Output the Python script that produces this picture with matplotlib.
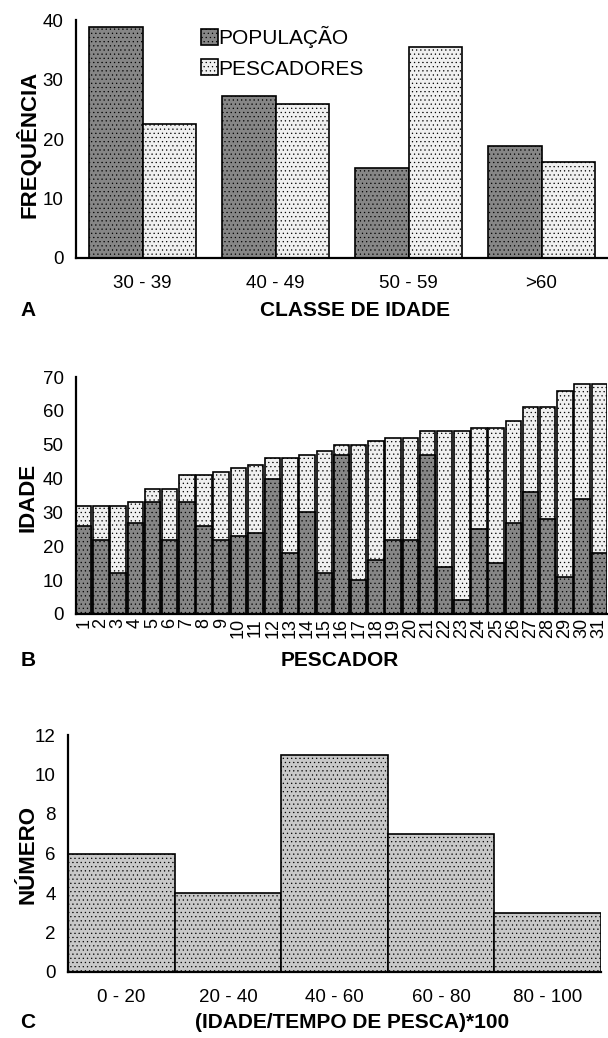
import numpy as np
import matplotlib
matplotlib.use("Agg")
import matplotlib.pyplot as plt

plt.rcParams['font.family'] = ['Liberation Sans', 'DejaVu Sans']
plt.rcParams['hatch.linewidth'] = 0.4

# Painel A - frequencia por classe de idade (%)
classes = ["30 - 39", "40 - 49", "50 - 59", ">60"]
populacao = [38.8, 27.2, 15.1, 18.9]
pescadores = [22.6, 25.8, 35.5, 16.1]

# Painel B - idade e idade de inicio na pesca por pescador
pescador = list(range(1, 32))
idade = [32, 32, 32, 33, 37, 37, 41, 41, 42, 43, 44, 46, 46, 47, 48, 50,
         50, 51, 52, 52, 54, 54, 54, 55, 55, 57, 61, 61, 66, 68, 68]
inicio = [26, 22, 12, 27, 33, 22, 33, 26, 22, 23, 24, 40, 18, 30, 12, 47,
          10, 16, 22, 22, 47, 14, 4, 25, 15, 27, 36, 28, 11, 34, 18]

# Painel C - (idade/tempo de pesca)*100
faixas = ["0 - 20", "20 - 40", "40 - 60", "60 - 80", "80 - 100"]
numero = [6, 4, 11, 7, 3]

W, H = 608, 1038
fig = plt.figure(figsize=(W / 100, H / 100), dpi=100)


def box(left, top, right, bottom):
    return [left / W, 1 - bottom / H, (right - left) / W, (bottom - top) / H]


def style(ax):
    for s in ("top", "right"):
        ax.spines[s].set_visible(False)
    for s in ("left", "bottom"):
        ax.spines[s].set_linewidth(1.6)
    ax.tick_params(length=0, labelsize=13.5, pad=9)


DARK = "#868686"
LIGHT = "#f0f0f0"
MID = "#c8c8c8"
ylab = dict(fontsize=16, fontweight="bold", rotation=90, ha="center",
            va="center")
xlab = dict(fontsize=15, fontweight="bold", ha="center", va="center")

# ---- A
ax1 = fig.add_axes(box(76, 20, 608, 258))
x = np.arange(len(classes))
ax1.bar(x - 0.2, populacao, 0.4, color=DARK, edgecolor="black", lw=1.2,
        hatch="....", label="POPULAÇÃO")
ax1.bar(x + 0.2, pescadores, 0.4, color=LIGHT, edgecolor="black", lw=1.2,
        hatch="....", label="PESCADORES")
ax1.set_xlim(-0.5, 3.5)
ax1.set_ylim(0, 40)
ax1.set_yticks([0, 10, 20, 30, 40])
ax1.set_xticks(x)
ax1.set_xticklabels(classes)
style(ax1)
ax1.tick_params(axis="x", pad=12)
ax1.legend(loc="upper left", bbox_to_anchor=(0.235, 0.975), frameon=False,
           fontsize=15, handlelength=0.8, handleheight=0.8,
           handletextpad=0.05, labelspacing=0.55, borderaxespad=0,
           borderpad=0)
fig.text(28 / W, 1 - 144 / H, "FREQUÊNCIA", **ylab)
fig.text(355 / W, 1 - 311 / H, "CLASSE DE IDADE", **xlab)
fig.text(28 / W, 1 - 311 / H, "A", **xlab)

# ---- B
ax2 = fig.add_axes(box(76, 377, 607, 614))
ax2.bar(pescador, idade, 0.9, color=LIGHT, edgecolor="black", lw=1.2,
        hatch="....")
ax2.bar(pescador, inicio, 0.9, color=DARK, edgecolor="black", lw=1.2,
        hatch="....")
ax2.set_xlim(0.55, 31.45)
ax2.set_ylim(0, 70)
ax2.set_yticks(range(0, 71, 10))
ax2.set_xticks(pescador)
ax2.set_xticklabels([str(p) for p in pescador], rotation=90)
style(ax2)
ax2.tick_params(axis="x", pad=3, labelsize=13)
fig.text(28 / W, 1 - 497 / H, "IDADE", **ylab)
fig.text(340 / W, 1 - 660 / H, "PESCADOR", **xlab)
fig.text(28 / W, 1 - 660 / H, "B", **xlab)

# ---- C
ax3 = fig.add_axes(box(68, 735, 601, 972))
xc = np.arange(len(faixas))
ax3.bar(xc, numero, 1.0, color=MID, edgecolor="black", lw=1.2, hatch="....")
ax3.set_xlim(-0.5, 4.5)
ax3.set_ylim(0, 12)
ax3.set_yticks(range(0, 13, 2))
ax3.set_xticks(xc)
ax3.set_xticklabels(faixas)
style(ax3)
ax3.tick_params(axis="x", pad=12)
fig.text(28 / W, 1 - 855 / H, "NÚMERO", **ylab)
fig.text(352 / W, 1 - 1022 / H, "(IDADE/TEMPO DE PESCA)*100", **xlab)
fig.text(28 / W, 1 - 1022 / H, "C", **xlab)

fig.savefig("out.png", dpi=100)
